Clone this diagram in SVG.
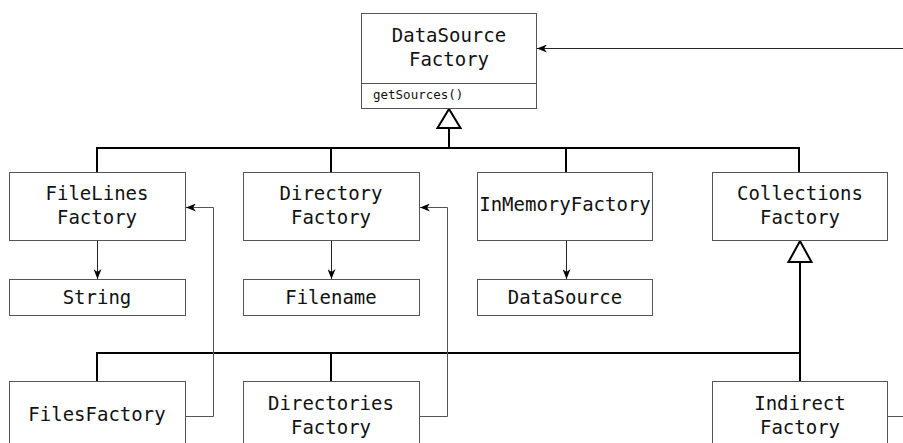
<svg xmlns="http://www.w3.org/2000/svg" width="903" height="443" viewBox="0 0 903 443">
  <style>
    .box { fill: #fff; stroke: #555; stroke-width: 1; }
    .lbl { font-family: "DejaVu Sans Mono", "Liberation Mono", monospace; font-size: 19px; fill: #111; text-anchor: middle; }
    .op { font-family: "DejaVu Sans Mono", "Liberation Mono", monospace; font-size: 12.5px; fill: #111; }
    .inh { fill: none; stroke: #000; stroke-width: 2; }
    .tri { fill: #fff; stroke: #000; stroke-width: 2; stroke-linejoin: miter; }
    .assoc { fill: none; stroke: #222; stroke-width: 1; }
    .back { fill: none; stroke: #555; stroke-width: 1; }
  </style>
  <defs>
    <marker id="arrow" viewBox="0 0 10 8" refX="10" refY="4" markerWidth="10" markerHeight="8" markerUnits="userSpaceOnUse" orient="auto">
      <path d="M0,0 L10,4 L0,8 L3,4 z" fill="#000"/>
    </marker>
  </defs>

  <!-- connectors -->
  <g id="connectors">
    <!-- generalisation: subclasses of DataSourceFactory -->
    <path class="inh" d="M97,172 V148 H799 V172 M331,148 V172 M566,148 V172 M449,148 V128"/>
    <polygon class="tri" points="449,109 437.5,128 460.5,128"/>
    <!-- generalisation: subclasses of CollectionsFactory -->
    <path class="inh" d="M800,262 V353 H97 V381 M331,353 V381 M800,353 V381"/>
    <polygon class="tri" points="800,241 788.5,262 811.5,262"/>
    <!-- creates -->
    <line class="assoc" x1="97.5" y1="241" x2="97.5" y2="279" marker-end="url(#arrow)"/>
    <line class="assoc" x1="331.5" y1="241" x2="331.5" y2="279" marker-end="url(#arrow)"/>
    <line class="assoc" x1="566.5" y1="241" x2="566.5" y2="279" marker-end="url(#arrow)"/>
    <!-- uses -->
    <path class="back" d="M185,416.5 H213.5 V207.5 H186" marker-end="url(#arrow)"/>
    <path class="back" d="M419,416.5 H447.5 V207.5 H420" marker-end="url(#arrow)"/>
    <path class="back" d="M887,416.5 H903"/>
    <line class="assoc" x1="903" y1="48.5" x2="537" y2="48.5" marker-end="url(#arrow)"/>
  </g>

  <g id="DataSourceFactory">
    <rect class="box" x="361.5" y="13.5" width="175" height="95"/>
    <line class="box" x1="361.5" y1="83.5" x2="536.5" y2="83.5"/>
    <text class="lbl" x="449" y="42">DataSource</text>
    <text class="lbl" x="449" y="66">Factory</text>
    <text class="op" x="373" y="99">getSources()</text>
  </g>

  <g id="FileLinesFactory">
    <rect class="box" x="9.5" y="172.5" width="176" height="68"/>
    <text class="lbl" x="97" y="200">FileLines</text>
    <text class="lbl" x="97" y="224">Factory</text>
  </g>
  <g id="DirectoryFactory">
    <rect class="box" x="243.5" y="172.5" width="176" height="68"/>
    <text class="lbl" x="331" y="200">Directory</text>
    <text class="lbl" x="331" y="224">Factory</text>
  </g>
  <g id="InMemoryFactory">
    <rect class="box" x="477.5" y="172.5" width="175" height="68"/>
    <text class="lbl" x="565" y="211">InMemoryFactory</text>
  </g>
  <g id="CollectionsFactory">
    <rect class="box" x="712.5" y="172.5" width="175" height="68"/>
    <text class="lbl" x="800" y="200">Collections</text>
    <text class="lbl" x="800" y="224">Factory</text>
  </g>

  <g id="String">
    <rect class="box" x="9.5" y="279.5" width="176" height="36"/>
    <text class="lbl" x="97" y="304">String</text>
  </g>
  <g id="Filename">
    <rect class="box" x="243.5" y="279.5" width="176" height="36"/>
    <text class="lbl" x="331" y="304">Filename</text>
  </g>
  <g id="DataSource">
    <rect class="box" x="477.5" y="279.5" width="175" height="36"/>
    <text class="lbl" x="565" y="304">DataSource</text>
  </g>

  <g id="FilesFactory">
    <rect class="box" x="9.5" y="381.5" width="176" height="80"/>
    <text class="lbl" x="97" y="421">FilesFactory</text>
  </g>
  <g id="DirectoriesFactory">
    <rect class="box" x="243.5" y="381.5" width="176" height="80"/>
    <text class="lbl" x="331" y="410">Directories</text>
    <text class="lbl" x="331" y="434">Factory</text>
  </g>
  <g id="IndirectFactory">
    <rect class="box" x="712.5" y="381.5" width="175" height="80"/>
    <text class="lbl" x="800" y="410">Indirect</text>
    <text class="lbl" x="800" y="434">Factory</text>
  </g>
</svg>
